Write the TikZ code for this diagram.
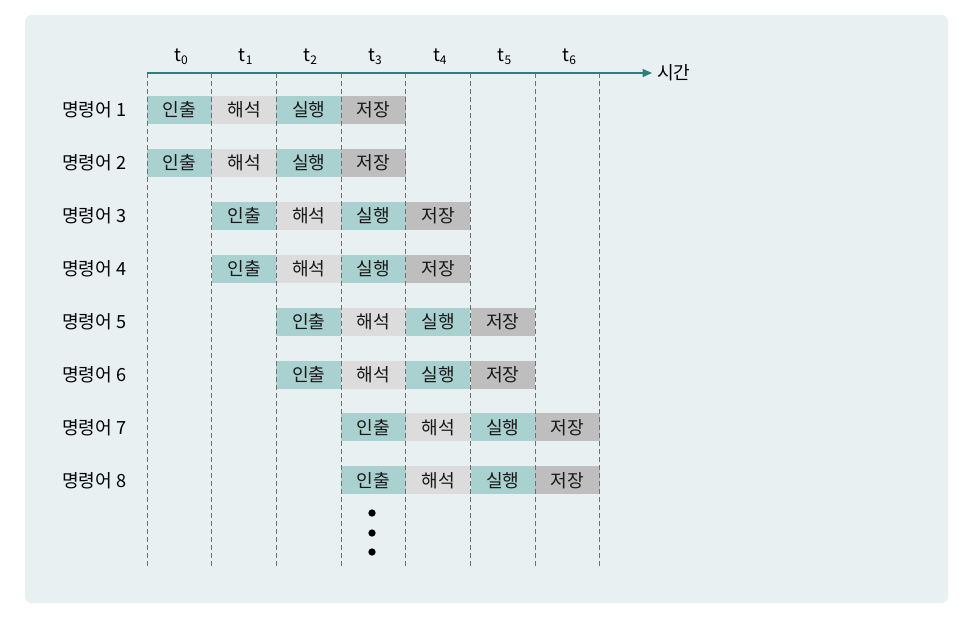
\documentclass[tikz,border=0pt]{standalone}
\usepackage{fontspec}
\newfontfamily\kr{Noto Sans CJK KR}
\usetikzlibrary{arrows.meta}
\definecolor{panel}{HTML}{E8F0F2}
\definecolor{fetchc}{HTML}{A9D1CF}
\definecolor{decc}{HTML}{DCDCDC}
\definecolor{execc}{HTML}{A9D1CF}
\definecolor{storec}{HTML}{BEBEBE}
\definecolor{axisc}{HTML}{2C7F7C}
\definecolor{gridc}{HTML}{707070}
\tikzset{
  cell/.style={minimum width=48.5pt, minimum height=21pt, inner sep=0pt, anchor=center, font=\kr\fontsize{13.6}{15}\selectfont, text=black!90},
  rowlab/.style={anchor=west, inner sep=0pt, font=\kr\fontsize{13.6}{15}\selectfont},
  tlab/.style={anchor=center, inner sep=0pt, font=\kr\fontsize{13.6}{15}\selectfont},
  gridline/.style={draw=gridc, line width=0.7pt, dash pattern=on 3.5pt off 2.5pt},
  dotmark/.style={circle, fill=black, inner sep=0pt, minimum size=5.5pt}
}
\newcommand{\tsub}[1]{t{\fontsize{9}{9}\selectfont\raisebox{-2.4pt}{#1}}}
\begin{document}
\begin{tikzpicture}[x=0.75pt,y=-0.75pt]
\useasboundingbox (0,0) rectangle (965,619);
\fill[white] (0,0) rectangle (965,619);
\fill[panel, rounded corners=5pt] (25,15) rectangle (948,603);
% cells
\foreach \r in {1,...,8}{
  \pgfmathtruncatemacro{\s}{int((\r-1)/2)}
  \pgfmathsetmacro{\yy}{110+(\r-1)*52.9}
  \node[rowlab] (lab\r) at (62,\yy) {명령어 \r};
  \foreach \k/\txt/\col in {0/인출/fetchc,1/해석/decc,2/실행/execc,3/저장/storec}{
    \pgfmathsetmacro{\xx}{147+64.7*(\s+\k)+32.35}
    \node[cell, fill=\col] (c\r-\k) at (\xx,\yy) {\txt};
  }
}
% grid lines
\foreach \i in {0,...,7}{
  \pgfmathsetmacro{\xx}{147+64.7*\i}
  \coordinate (gt\i) at (\xx,73);
  \coordinate (gb\i) at (\xx,567);
  \draw[gridline] (gt\i) -- (gb\i);
}
% time labels
\foreach \i in {0,...,6}{
  \pgfmathsetmacro{\xx}{147+64.7*\i+34}
  \node[tlab] (t\i) at (\xx,57) {\tsub{\i}};
}
% axis
\coordinate (ax0) at (147,73);
\coordinate (ax1) at (652,73);
\draw[axisc, line width=1pt, -{Triangle[length=7pt,width=6pt]}] (ax0) -- (ax1);
\node[tlab, anchor=west] (timelab) at (657,73) {시간};
% dots
\node[dotmark] (d1) at (372,513) {};
\node[dotmark] (d2) at (372,533) {};
\node[dotmark] (d3) at (372,552) {};
\end{tikzpicture}
\end{document}
